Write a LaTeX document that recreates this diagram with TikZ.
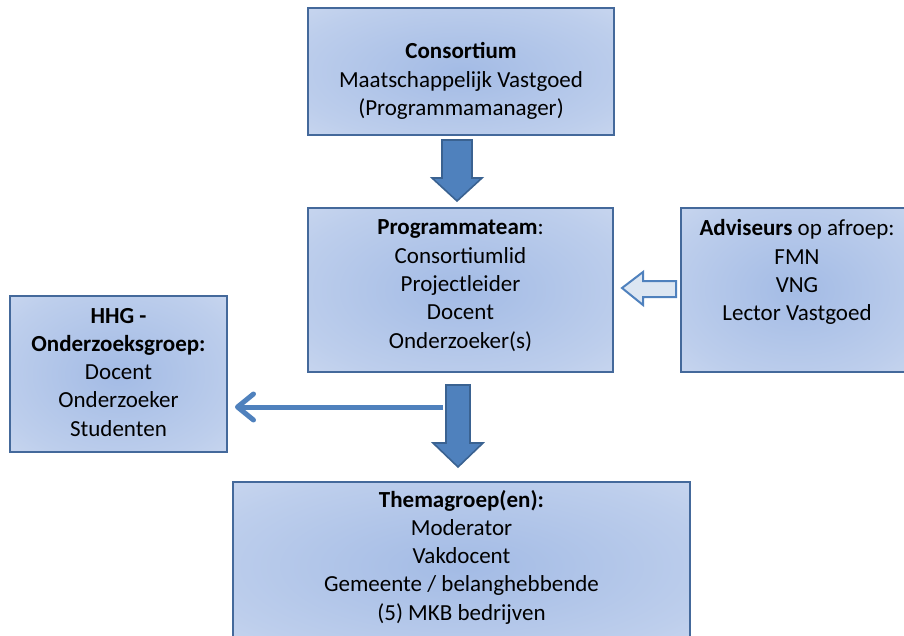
\documentclass[tikz,border=0pt]{standalone}
\usepackage{fontspec}
\setmainfont{Carlito}
\usetikzlibrary{arrows.meta}
\definecolor{boxin}{HTML}{A3BBE5}
\definecolor{boxmid}{HTML}{BDCEEC}
\definecolor{boxedge}{HTML}{D9E2F3}
\definecolor{boxout}{HTML}{E5EAF6}
\definecolor{boxline}{HTML}{44699B}
\definecolor{arrowblue}{HTML}{4F81BD}
\definecolor{arrowline}{HTML}{3A6291}
\definecolor{hollowfill}{HTML}{DCE6F2}
\pgfdeclareradialshading{boxshade}{\pgfpoint{0bp}{0bp}}{color(0bp)=(boxin); color(28bp)=(boxmid); color(50bp)=(boxedge); color(72bp)=(boxout)}

\begin{document}
\begin{tikzpicture}[x=1pt,y=-1pt,
  box/.style={draw=boxline, line width=2.2pt, shading=boxshade, inner sep=0pt,
    outer sep=0pt, anchor=north west, align=flush center,
    font=\fontsize{23}{28.3}\selectfont},
  blockarrow/.style={fill=arrowblue, draw=arrowline, line width=1.6pt},
  hollowarrow/.style={fill=hollowfill, draw=arrowblue, line width=2pt},
  linkarrow/.style={draw=arrowblue, line width=5pt,
    -{Straight Barb[length=16pt,width=26pt,round]}}]
\useasboundingbox (0,0) rectangle (904,636);
\clip (0,0) rectangle (904,636);

% boxes
\node[box, text width=306pt, text height=51pt, text depth=76pt] (cons) at (308,8)
  {\textbf{Consortium}\\Maatschappelijk Vastgoed\\(Programmamanager)};
\node[box, text width=305pt, text height=27pt, text depth=137pt] (team) at (308,208)
  {\textbf{Programmateam}:\\Consortiumlid\\Projectleider\\Docent\\Onderzoeker(s)};
\node[box, text width=232pt, text height=28pt, text depth=136pt] (adv) at (681,208)
  {\textbf{Adviseurs} op afroep:\\FMN\\VNG\\Lector Vastgoed};
\node[box, text width=217pt, text height=27pt, text depth=129pt] (hhg) at (10,296)
  {\textbf{HHG -}\\\textbf{Onderzoeksgroep:}\\Docent\\Onderzoeker\\Studenten};
\node[box, text width=457pt, text height=25pt, text depth=143pt] (them) at (233,482)
  {\textbf{Themagroep(en):}\\Moderator\\Vakdocent\\Gemeente / belanghebbende\\(5) MKB bedrijven};

% block arrows
\draw[blockarrow] (442,140) -- (472,140) -- (472,178) -- (482,178) -- (457,201)
  -- (432,178) -- (442,178) -- cycle;
\draw[blockarrow] (446,385) -- (470,385) -- (470,443) -- (483,443) -- (458,467)
  -- (433,443) -- (446,443) -- cycle;
\draw[hollowarrow] (622,288) -- (643,272) -- (643,281) -- (676,281) -- (676,297)
  -- (643,297) -- (643,305) -- cycle;

% link to research group
\coordinate (split) at (443,407);
\draw[linkarrow] (split) -- ([xshift=8pt]split -| hhg.east);
\end{tikzpicture}
\end{document}
